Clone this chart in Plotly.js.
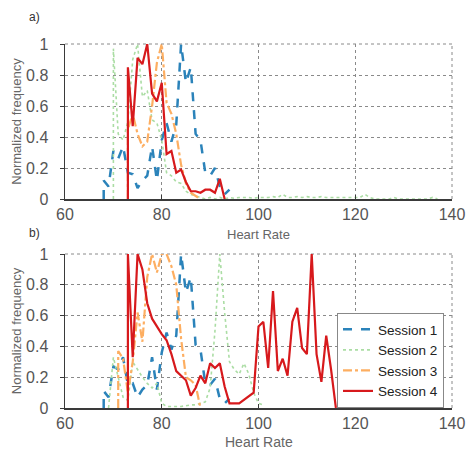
<!DOCTYPE html>
<html>
<head>
<meta charset="utf-8">
<script src="https://cdn.plot.ly/plotly-3.0.1.min.js"></script>
<style>html,body{margin:0;padding:0;background:#fff;}#chart{width:466px;height:450px;}</style>
</head>
<body>
<div id="chart"></div>
<script>
// ---------- Panel a) ----------
const a_s1_hr = [68,68,69,70,71,72,73,74,75,76,77,78,79,80,81,82,83,84,85,86,87,88,89,90,91,92,93,94];
const a_s1_f  = [0,0.12,0.08,0.31,0.26,0.34,0.17,0.16,0.07,0.12,0.15,0.34,0.12,0.38,0.49,0.37,0.48,1.0,0.75,0.85,0.42,0.38,0.17,0.15,0.2,0.08,0.03,0.06];

const a_s2_hr = [70,70,71,72,73,74,75,76,77,78,79,80,81,82,83,84,85,86,87,88,
                 89,90,91,92,93,94,95,96,97,98,99,100,101,102,103,104,105,106,107,108,109,110,
                 111,112,113,114,115,116,117,118,119,120,121,122,123,124,125,126,127,128,129,130,
                 131,132,133,134,135,136,137];
const a_s2_f  = [0,0.97,0.42,0.38,0.5,0.9,1.0,0.66,0.7,0.51,0.49,0.38,0.17,0.15,0.11,0.1,0.05,0.03,0.02,0.01,
                 0,0.01,0,0.01,0,0.01,0.005,0.01,0.01,0.01,0.005,0.01,0.01,0.01,0.015,0.01,0.03,0.01,0.01,0.015,0.01,0.015,
                 0.01,0.01,0.015,0.01,0.01,0.01,0.01,0.01,0.01,0.01,0.01,0.03,0.01,0,0,0,0,0.01,0,0,
                 0,0,0,0,0,0.01,0];

const a_s3_hr = [73,73,74,75,76,77,78,79,80,81,82,83,84,85,86,87,88];
const a_s3_f  = [0,0.45,0.55,0.42,0.34,0.37,0.6,0.88,1.0,0.62,0.55,0.42,0.22,0.1,0.04,0.02,0];

const a_s4_hr = [73,73,74,75,76,77,78,79,80,81,82,83,84,85,86,87,88,89,90,91,92,93];
const a_s4_f  = [0,0.85,0.47,0.91,0.87,1.0,0.68,0.63,0.75,0.29,0.31,0.17,0.19,0.11,0.05,0.05,0.04,0.06,0.06,0.04,0.13,0];

// ---------- Panel b) ----------
const b_s1_hr = [68,68,69,70,71,72,73,74,75,76,77,78,79,80,81,82,83,84,85,86,87,88,89,90,91,92,93,94];
const b_s1_f  = [0,0.11,0.07,0.27,0.25,0.33,0.15,0.16,0.07,0.12,0.15,0.33,0.12,0.36,0.49,0.38,0.47,1.0,0.75,0.85,0.41,0.38,0.16,0.15,0.19,0.06,0.03,0.06];

const b_s2_hr = [69,70,71,72,73,74,75,76,77,78,79,80,81,82,83,84,85,86,87,88,89,90,91,92,93,94,95,96,97,98,99,100,101];
const b_s2_f  = [0,0.33,0.2,0.07,0.05,0.3,0.25,0.2,0.16,0.13,0.16,0.03,0.01,0.01,0.01,0.01,0.015,0.02,0.02,0.03,0.04,0.13,0.5,1.0,0.62,0.3,0.25,0.22,0.29,0.22,0.1,0.03,0.02];

const b_s3_hr = [71,71,72,73,74,75,76,77,78,79,80,81,82,83,84,85,86,87,88];
const b_s3_f  = [0,0.37,0.32,0.1,0.3,0.62,0.43,0.85,1.0,0.88,1.0,1.0,0.92,0.8,0.45,0.2,0.18,0.15,0];

const b_s4_hr = [73,73,74,75,76,77,78,79,80,81,82,83,84,85,86,87,88,89,90,91,92,93,94,95,96,
                 99,100,101,102,103,104,105,106,107,108,109,110,111,112,113,114,115,116];
const b_s4_f  = [0,1.0,0.33,1.0,0.9,0.68,0.58,0.53,0.48,0.44,0.35,0.24,0.21,0.18,0.08,0.13,0.21,0.16,0.29,0.26,0.29,0.14,0.03,0.03,0.03,
                 0.1,0.53,0.56,0.26,0.76,0.24,0.32,0.21,0.56,0.65,0.39,0.35,1.0,0.35,0.17,0.47,0.25,0];

const sessionNames = ["Session 1","Session 2","Session 3","Session 4"];
const xTicks = [60,80,100,120,140];
const yTicks = [0,0.2,0.4,0.6,0.8,1];
const yTickText = ["0","0.2","0.4","0.6","0.8","1"];

const styles = [
  {color:"#2b83ba", width:2.5, dash:"dash"},
  {color:"#abdda4", width:1.6, dash:"dot"},
  {color:"#fdae61", width:2.2, dash:"dashdot"},
  {color:"#d7191c", width:2.2, dash:"solid"}
];

const panelA = [[a_s1_hr,a_s1_f],[a_s2_hr,a_s2_f],[a_s3_hr,a_s3_f],[a_s4_hr,a_s4_f]];
const panelB = [[b_s1_hr,b_s1_f],[b_s2_hr,b_s2_f],[b_s3_hr,b_s3_f],[b_s4_hr,b_s4_f]];

const traces = [];
panelA.forEach((d,i)=>traces.push({x:d[0],y:d[1],type:"scatter",mode:"lines",name:sessionNames[i],
  line:styles[i],xaxis:"x",yaxis:"y",showlegend:false,hoverinfo:"skip"}));
panelB.forEach((d,i)=>traces.push({x:d[0],y:d[1],type:"scatter",mode:"lines",name:sessionNames[i],
  line:styles[i],xaxis:"x2",yaxis:"y2",showlegend:true,hoverinfo:"skip"}));

const fontFam = "Liberation Sans, Arial, sans-serif";
const xDom = [65/466, 452/466];
const gridCol = "#8a8a8a";

function xAx(anchor){
  return {domain:xDom, anchor:anchor, range:[60,140], tickvals:xTicks, ticktext:xTicks.map(String),
    showgrid:true, gridcolor:gridCol, griddash:"dot", gridwidth:1,
    showline:true, linecolor:"#3a3a3a", linewidth:1.5, zeroline:false,
    ticks:"inside", ticklen:4, tickcolor:"#3a3a3a", ticklabelstandoff:0,
    tickfont:{family:fontFam,size:16,color:"#555"},
    automargin:false, fixedrange:true};
}
function yAx(anchor, dom){
  return {domain:dom, anchor:anchor, range:[0,1], tickvals:yTicks, ticktext:yTickText,
    showgrid:true, gridcolor:gridCol, griddash:"dot", gridwidth:1,
    showline:true, linecolor:"#3a3a3a", linewidth:1.5, zeroline:false,
    ticks:"outside", ticklen:4, tickcolor:"#3a3a3a", ticklabelstandoff:8,
    tickfont:{family:fontFam,size:16,color:"#555"},
    title:{text:"Normalized frequency", font:{family:fontFam,size:13,color:"#666"}, standoff:1},
    automargin:false, fixedrange:true};
}

function border(xr, yr){
  return [
    {type:"line", xref:xr+" domain", yref:yr+" domain", x0:0, x1:1, y0:1, y1:1,
     line:{color:gridCol, width:1, dash:"dot"}, layer:"below"},
    {type:"line", xref:xr+" domain", yref:yr+" domain", x0:1, x1:1, y0:0, y1:1,
     line:{color:gridCol, width:1, dash:"dot"}, layer:"below"}
  ];
}

const layout = {
  width:466, height:450,
  margin:{l:0,r:0,t:0,b:0,pad:0},
  paper_bgcolor:"#fff", plot_bgcolor:"#fff",
  xaxis: xAx("y"),
  yaxis: yAx("x",[1-199/450, 1-44/450]),
  xaxis2: xAx("y2"),
  yaxis2: yAx("x2",[1-408/450, 1-254/450]),
  showlegend:true,
  legend:{x:444/466, xanchor:"right", y:1-408/450, yanchor:"bottom",
    bgcolor:"#fff", bordercolor:"#888", borderwidth:1,
    font:{family:fontFam,size:13.5,color:"#222"}, itemwidth:30, tracegroupgap:0},
  shapes: border("x","y").concat(border("x2","y2")),
  annotations:[
    {text:"a)", x:27/466, y:1-17/450, xref:"paper", yref:"paper", xanchor:"left", yanchor:"middle",
     showarrow:false, font:{family:fontFam,size:12,color:"#333"}},
    {text:"b)", x:27/466, y:1-233/450, xref:"paper", yref:"paper", xanchor:"left", yanchor:"middle",
     showarrow:false, font:{family:fontFam,size:12,color:"#333"}},
    {text:"Heart Rate", x:0.5, y:1-234/450, xref:"x domain", yref:"paper", xanchor:"center", yanchor:"middle",
     showarrow:false, font:{family:fontFam,size:13,color:"#666"}},
    {text:"Heart Rate", x:0.5, y:1-442/450, xref:"x2 domain", yref:"paper", xanchor:"center", yanchor:"middle",
     showarrow:false, font:{family:fontFam,size:14,color:"#666"}}
  ]
};

Plotly.newPlot("chart", traces, layout, {displayModeBar:false, staticPlot:true});
</script>
</body>
</html>
